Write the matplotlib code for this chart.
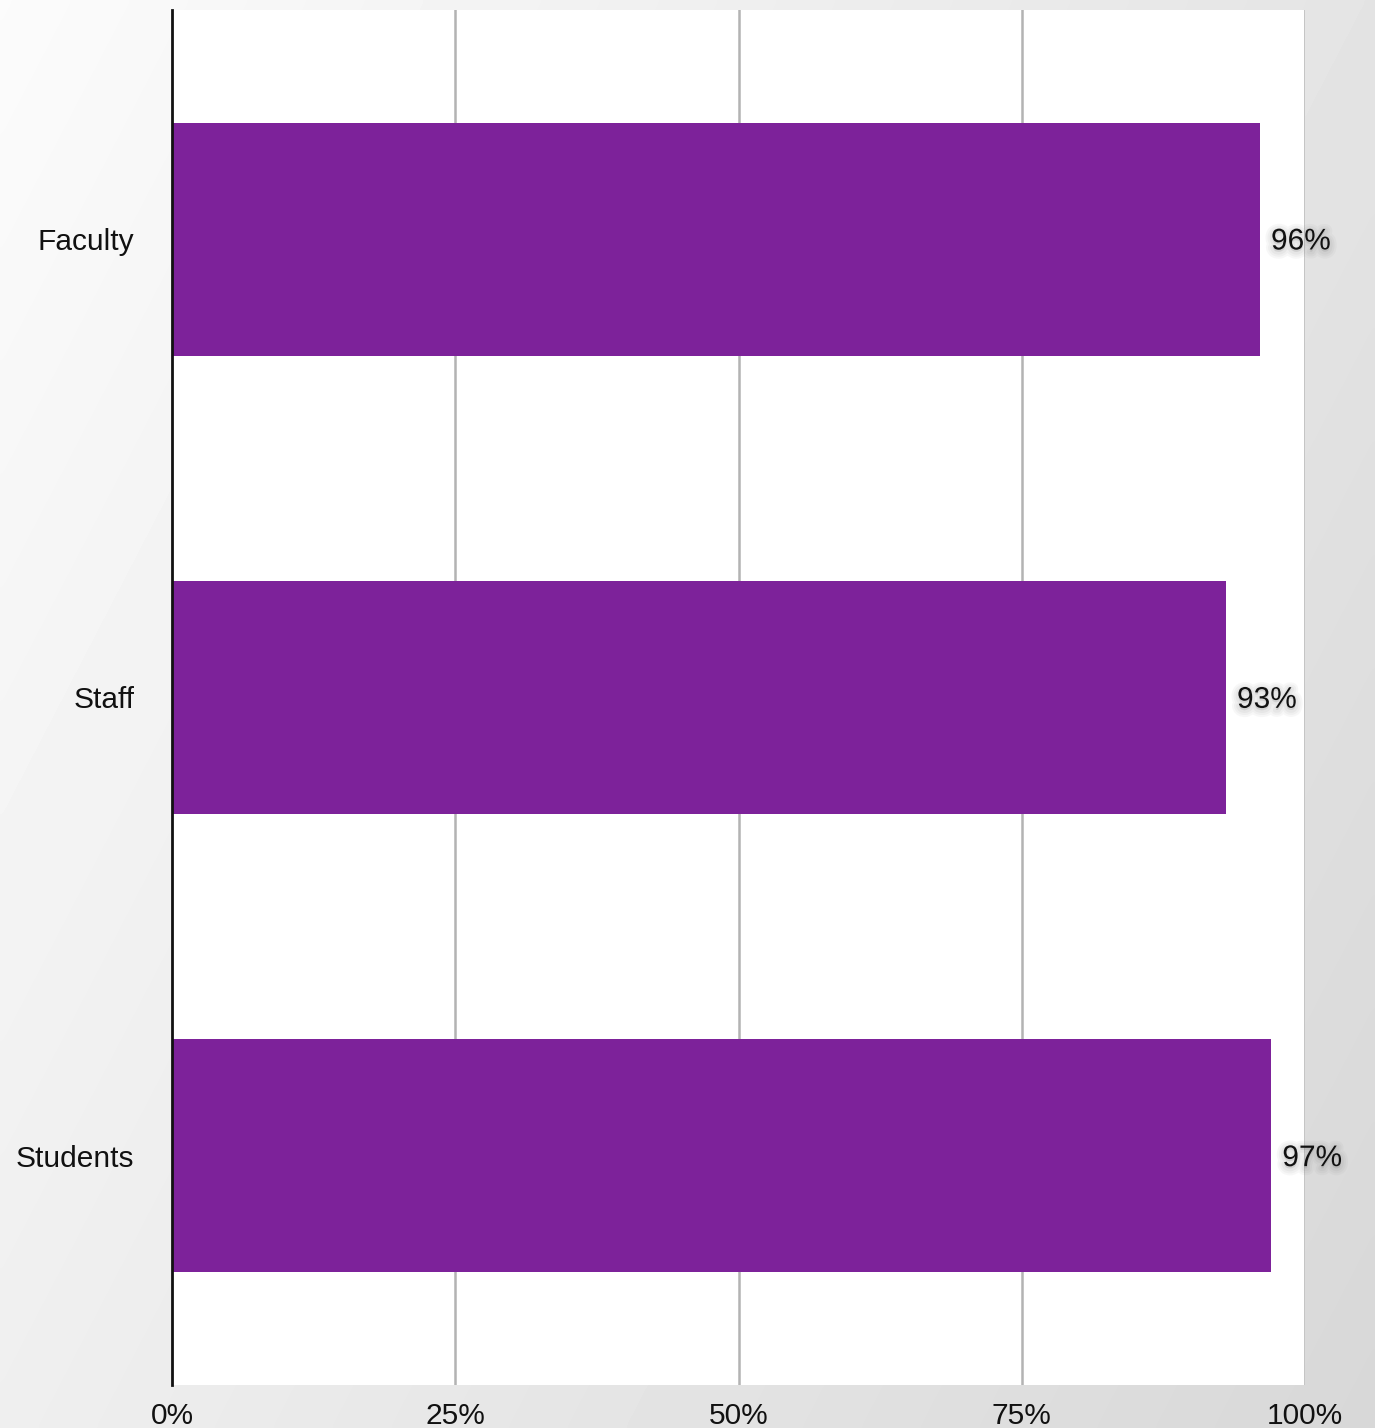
import numpy as np
import matplotlib
matplotlib.use("Agg")
import matplotlib.pyplot as plt
import matplotlib.patheffects as pe

plt.rcParams['font.family'] = ['Liberation Sans', 'DejaVu Sans']

categories = ["Faculty", "Staff", "Students"]
values = [96, 93, 97]
x_ticks = [0, 25, 50, 75, 100]
x_tick_labels = ["0%", "25%", "50%", "75%", "100%"]

W, H, DPI = 1375, 1428, 100
fig = plt.figure(figsize=(W / DPI, H / DPI), dpi=DPI)

# soft diagonal grey backdrop
bg = fig.add_axes([0, 0, 1, 1], zorder=-10)
yy, xx = np.mgrid[0:1:300j, 0:1:300j]
t = 0.65 * xx + 0.35 * yy
shade = 0.985 - 0.14 * t
bg.imshow(shade, cmap="gray", vmin=0, vmax=1, aspect="auto",
          extent=[0, 1, 0, 1], origin="upper", interpolation="bicubic")
bg.set_axis_off()

left, right = 172 / W, 1305 / W
top, bottom = 10 / H, 1385 / H
ax = fig.add_axes([left, 1 - bottom, right - left, bottom - top])
ax.set_facecolor("white")

ypos = np.arange(len(categories))
ax.barh(ypos, values, height=0.508, color="#7D229A", zorder=3)
ax.set_xlim(0, 100)
ax.set_ylim(len(categories) - 0.5, -0.5)

ax.set_xticks(x_ticks)
ax.set_xticklabels(x_tick_labels)
ax.set_yticks(ypos)
ax.set_yticklabels(categories)
ax.tick_params(axis="both", length=0, labelsize=21.5, colors="#111111")
ax.tick_params(axis="y", pad=27)
ax.tick_params(axis="x", pad=12)

for xv in x_ticks[1:]:
    ax.axvline(xv, color="#b3b3b3", lw=1.8, zorder=1)

for s in ["top", "right", "bottom"]:
    ax.spines[s].set_visible(False)
ax.spines["left"].set_color("#111111")
ax.spines["left"].set_linewidth(2)
ax.spines["left"].set_zorder(5)

# faint blurred shadow behind the value labels (grey only, no black copies)
shadow_grey = (0.45, 0.45, 0.45)
glow = [pe.SimplePatchShadow(offset=(0, -1.5), shadow_rgbFace=shadow_grey,
                             alpha=a, linewidth=w, foreground=shadow_grey)
        for w, a in [(10, 0.05), (7, 0.06), (4, 0.07)]] + [pe.Normal()]
for y, v in zip(ypos, values):
    ax.text(v + 1.0, y + 0.005, f"{v}%", va="center", ha="left", fontsize=21.5,
            color="#111111", zorder=6, path_effects=glow)

fig.savefig("out.png", dpi=DPI)
